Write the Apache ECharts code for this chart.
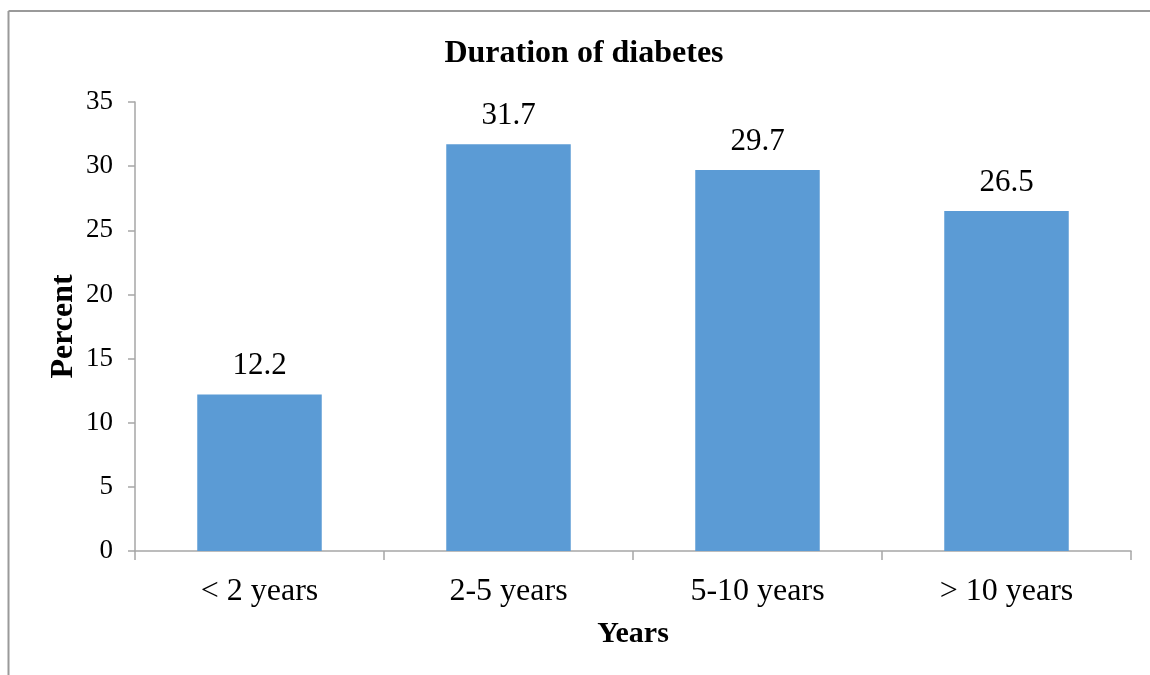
<!DOCTYPE html>
<html>
<head>
<meta charset="utf-8">
<script src="https://cdn.jsdelivr.net/npm/echarts@6/dist/echarts.min.js"></script>
<style>
  html, body { margin: 0; padding: 0; background: #fff; }
  #chart { width: 1150px; height: 675px; }
</style>
</head>
<body>
<div id="chart"></div>
<script>
// Share of patients by duration of diabetes
const categories = ['< 2 years', '2-5 years', '5-10 years', '> 10 years'];
const percentValues = [12.2, 31.7, 29.7, 26.5];
const yTicks = { min: 0, max: 35, interval: 5 };

const serif = '"Liberation Serif", "Times New Roman", serif';
const axisGray = '#a6a6a6';
const frameGray = '#9a9a9a';

const chart = echarts.init(document.getElementById('chart'));
chart.setOption({
  backgroundColor: '#ffffff',
  animation: false,
  title: {
    text: 'Duration of diabetes',
    left: 579,
    top: 33,
    textAlign: 'center',
    textStyle: { fontFamily: serif, fontWeight: 'bold', fontSize: 32, color: '#000' }
  },
  // outer chart frame: top and left edges
  graphic: [
    { type: 'line', shape: { x1: 8.5, y1: 11, x2: 1150, y2: 11 }, style: { stroke: frameGray, lineWidth: 2 }, silent: true },
    { type: 'line', shape: { x1: 8.5, y1: 11, x2: 8.5, y2: 675 }, style: { stroke: frameGray, lineWidth: 2 }, silent: true }
  ],
  grid: { left: 135, right: 19, top: 102, bottom: 124, containLabel: false },
  xAxis: {
    type: 'category',
    data: categories,
    name: 'Years',
    nameLocation: 'middle',
    nameGap: 68,
    nameTextStyle: { fontFamily: serif, fontWeight: 'bold', fontSize: 30, color: '#000' },
    axisLine: { show: true, lineStyle: { color: axisGray, width: 1.5 } },
    axisTick: { show: true, alignWithLabel: false, length: 9, lineStyle: { color: axisGray, width: 1.5 } },
    axisLabel: { fontFamily: serif, fontSize: 32, color: '#000', margin: 25 },
    splitLine: { show: false }
  },
  yAxis: {
    type: 'value',
    min: yTicks.min,
    max: yTicks.max,
    interval: yTicks.interval,
    name: 'Percent',
    nameLocation: 'middle',
    nameGap: 55,
    nameMoveOverlap: false,
    nameRotate: 90,
    nameTextStyle: { fontFamily: serif, fontWeight: 'bold', fontSize: 32, color: '#000' },
    axisLine: { show: true, lineStyle: { color: axisGray, width: 1.5 } },
    axisTick: { show: true, length: 7, lineStyle: { color: axisGray, width: 1.5 } },
    axisLabel: { fontFamily: serif, fontSize: 27, color: '#000', margin: 22 },
    splitLine: { show: false }
  },
  series: [{
    type: 'bar',
    data: percentValues,
    barWidth: '50%',
    itemStyle: { color: '#5b9bd5' },
    label: {
      show: true,
      position: 'top',
      distance: 13,
      fontFamily: serif,
      fontSize: 31,
      color: '#000',
      formatter: p => p.value.toFixed(1)
    }
  }]
});
</script>
</body>
</html>
